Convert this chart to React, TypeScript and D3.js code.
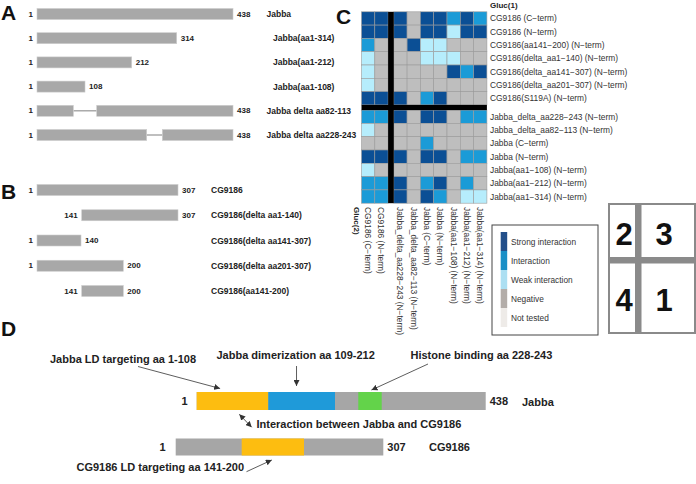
import React from "react";
import * as d3 from "d3";

const FONT = '"Liberation Sans", Arial, Helvetica, sans-serif';

// ---------- Panel A : Jabba constructs ----------
const jabbaNames = [
  "Jabba",
  "Jabba(aa1-314)",
  "Jabba(aa1-212)",
  "Jabba(aa1-108)",
  "Jabba delta aa82-113",
  "Jabba delta aa228-243",
];
const jabbaSegments: number[][][] = [
  [[1, 438]],
  [[1, 314]],
  [[1, 212]],
  [[1, 108]],
  [[1, 82], [113, 438]],
  [[1, 228], [243, 438]],
];

// ---------- Panel B : CG9186 constructs ----------
const cgNames = [
  "CG9186",
  "CG9186(delta aa1-140)",
  "CG9186(delta aa141-307)",
  "CG9186(delta aa201-307)",
  "CG9186(aa141-200)",
];
const cgSegments: number[][][] = [
  [[1, 307]],
  [[141, 307]],
  [[1, 140]],
  [[1, 200]],
  [[141, 200]],
];

// ---------- Panel C : interaction heatmap ----------
const heatRowTitle = "Gluc(1)";
const heatColTitle = "Gluc(2)";
const heatRows = [
  "CG9186 (C\u2212term)",
  "CG9186 (N\u2212term)",
  "CG9186(aa141\u2212200) (N\u2212term)",
  "CG9186(delta_aa1\u2212140) (N\u2212term)",
  "CG9186(delta_aa141\u2212307) (N\u2212term)",
  "CG9186(delta_aa201\u2212307) (N\u2212term)",
  "CG9186(S119A) (N\u2212term)",
  "Jabba_delta_aa228\u2212243 (N\u2212term)",
  "Jabba_delta_aa82\u2212113 (N\u2212term)",
  "Jabba (C\u2212term)",
  "Jabba (N\u2212term)",
  "Jabba(aa1\u2212108) (N\u2212term)",
  "Jabba(aa1\u2212212) (N\u2212term)",
  "Jabba(aa1\u2212314) (N\u2212term)",
];
const heatCols = [
  "CG9186 (C\u2212term)",
  "CG9186 (N\u2212term)",
  "Jabba_delta_aa228\u2212243 (N\u2212term)",
  "Jabba_delta_aa82\u2212113 (N\u2212term)",
  "Jabba (C\u2212term)",
  "Jabba (N\u2212term)",
  "Jabba(aa1\u2212108) (N\u2212term)",
  "Jabba(aa1\u2212212) (N\u2212term)",
  "Jabba(aa1\u2212314) (N\u2212term)",
];
// 3 strong, 2 interaction, 1 weak, 0 negative, -1 not tested
const heatValues = [
  [3, 3, 3, 0, 3, 3, 2, 3, 2],
  [3, 3, 3, 0, 3, 3, 1, 3, 3],
  [2, 0, 0, 3, 1, 1, 0, 0, 0],
  [1, 0, 0, 0, 1, 1, 1, 0, 0],
  [1, 0, 0, 0, 0, 0, 3, 2, 3],
  [1, 0, 0, 0, 0, 0, 0, 0, 0],
  [3, 3, 3, 0, 2, 3, 0, 0, 0],
  [2, 2, 3, 0, 3, 3, 0, 2, 2],
  [1, 0, 0, 0, 0, 0, 0, 0, 0],
  [0, 0, 0, 0, 2, 0, 0, 0, 0],
  [3, 3, 3, 0, 3, 3, 0, 2, 2],
  [1, 0, 0, 0, 0, 0, 0, 0, 0],
  [2, 2, 3, 0, 2, 3, 0, 2, 0],
  [2, 2, 3, 0, 3, 2, 0, 1, 1],
];
const legendLevels = [3, 2, 1, 0, -1];
const legendLabels = ["Strong interaction", "Interaction", "Weak interaction", "Negative", "Not tested"];
const quadrantNumbers = ["2", "3", "4", "1"];

// ---------- Panel D : domain map ----------
const jabbaLength = 438;
const cgLength = 307;
const jabbaDomains = [
  { start: 1, end: 108, kind: "ld" },
  { start: 108, end: 212, kind: "dimer" },
  { start: 227, end: 243, kind: "histone" },
];
const cgDomains = [{ start: 140, end: 200, kind: "ld" }];
const jabbaAnnotations = [
  { text: "Jabba LD targeting aa 1-108", target: 36 },
  { text: "Jabba dimerization aa 109-212", target: 152 },
  { text: "Histone binding aa 228-243", target: 236 },
];
const cgAnnotation = { text: "CG9186 LD targeting aa 141-200", target: 169 };
const interactionText = "Interaction between Jabba and CG9186";

export default function App() {
  // scales (schematic, piecewise-linear as in the figure)
  const xA = d3.scaleLinear().domain([1, 108, 113, 212, 228, 243, 314, 438]).range([37, 85, 96.7, 131.7, 146.7, 162.3, 176.7, 233]);
  const yA = d3.scalePoint<string>().domain(jabbaNames).range([14, 135]);
  const xB = d3.scaleLinear().domain([1, 140, 141, 200, 307]).range([37, 81, 81.7, 123.3, 178]);
  const yB = d3.scalePoint<string>().domain(cgNames).range([190, 291]);

  const barH = 11;
  const barFill = "#a8a8a8";

  const cw = 13.3, ch = 13.3, sepW = 5.7, sepH = 5.2;
  const hx0 = 361.5, hy0 = 11.8;
  const colBand = d3.scaleBand<number>().domain(d3.range(heatCols.length)).range([0, cw * heatCols.length]);
  const rowBand = d3.scaleBand<number>().domain(d3.range(heatRows.length)).range([0, ch * heatRows.length]);
  const cx = (i: number) => hx0 + (colBand(i) as number) + (i >= 2 ? sepW : 0);
  const ry = (j: number) => hy0 + (rowBand(j) as number) + (j >= 7 ? sepH : 0);
  const heatRight = cx(heatCols.length - 1) + cw;
  const heatBottom = ry(heatRows.length - 1) + ch;
  const heatColor = d3.scaleOrdinal<number, string>().domain(legendLevels).range(["#0b4f95", "#1b9bd7", "#b6edfc", "#bebebe", "#f2f0ee"]);
  const legendColor = d3.scaleOrdinal<number, string>().domain(legendLevels).range(["#234f8a", "#1a8fc6", "#acdff2", "#b3ada9", "#eeebe8"]);

  const xDJ = d3.scaleLinear().domain([1, 108, 212, 227, 243, jabbaLength]).range([196.7, 268.3, 335, 358.3, 381.7, 485.7]);
  const xDC = d3.scaleLinear().domain([1, 140, 200, cgLength]).range([175.7, 241.7, 304, 383.3]);
  const domColor: Record<string, string> = { ld: "#fdbd10", dimer: "#1f9ad9", histone: "#63d34a" };
  const jTop = 392, jH = 18, cTop = 438.5, cH = 17;

  const labelStyle = { fontFamily: FONT, fontWeight: 700 as const, fill: "#222" };

  const renderConstruct = (segs: number[][], y: number, x: d3.ScaleLinear<number, number>, name: string, nameX: number, key: string) => {
    const first = segs[0][0];
    const last = segs[segs.length - 1][1];
    return (
      <g key={key}>
        {segs.length > 1 &&
          segs.slice(1).map((s, k) => (
            <line key={k} x1={x(segs[k][1])} x2={x(s[0])} y1={y} y2={y} stroke="#9c9c9c" strokeWidth={1.3} />
          ))}
        {segs.map((s, k) => (
          <rect key={"r" + k} x={x(s[0])} y={y - barH / 2} width={x(s[1]) - x(s[0])} height={barH} fill={barFill} stroke="#cdcdcd" strokeWidth={0.6} />
        ))}
        <text x={x(first) - 4} y={y} textAnchor="end" dominantBaseline="central" fontSize={8} {...labelStyle}>{first}</text>
        <text x={x(last) + 4} y={y} dominantBaseline="central" fontSize={8} {...labelStyle}>{last}</text>
        <text x={nameX} y={y} dominantBaseline="central" fontSize={8.5} {...labelStyle}>{name}</text>
      </g>
    );
  };

  const arrowStroke = "#333";

  return (
    <svg width={696} height={484} style={{ position: "absolute", left: 0, top: 0, background: "#fff" }} fontFamily={FONT}>
      <defs>
        <marker id="ah" viewBox="0 0 10 10" refX="10" refY="5" markerWidth="6" markerHeight="6" markerUnits="userSpaceOnUse" orient="auto-start-reverse">
          <path d="M0,0 L10,5 L0,10 z" fill={arrowStroke} />
        </marker>
      </defs>
      <rect width={696} height={484} fill="#fff" />

      {/* Panel letters */}
      {[["A", 1, 20], ["B", 1, 199], ["C", 336, 24], ["D", 1, 336]].map(([t, x, y]) => (
        <text key={t as string} x={x as number} y={y as number} fontSize={21} fontWeight={700} fill="#111">{t}</text>
      ))}

      {/* Panel A */}
      {jabbaNames.map((n, i) =>
        renderConstruct(jabbaSegments[i], yA(n) as number, xA, n, jabbaSegments[i][jabbaSegments[i].length - 1][1] === 438 ? 266.5 : 273, "a" + i)
      )}

      {/* Panel B */}
      {cgNames.map((n, i) => renderConstruct(cgSegments[i], yB(n) as number, xB, n, 211, "b" + i))}

      {/* Panel C heatmap */}
      <g>
        {heatValues.map((row, j) =>
          row.map((v, i) => (
            <rect key={`c${j}-${i}`} x={cx(i)} y={ry(j)} width={cw} height={ch} fill={heatColor(v)} stroke="#9b9b9b" strokeWidth={0.6} />
          ))
        )}
        <rect x={cx(1) + cw} y={hy0} width={sepW} height={heatBottom - hy0} fill="#000" />
        <rect x={hx0} y={ry(6) + ch} width={heatRight - hx0} height={sepH} fill="#000" />
        <text x={490} y={5.5} dominantBaseline="central" fontSize={8} fontWeight={700} fill="#222">{heatRowTitle}</text>
        {heatRows.map((r, j) => (
          <text key={"rl" + j} x={490} y={ry(j) + ch / 2} dominantBaseline="central" fontSize={8.4} fill="#333">{r}</text>
        ))}
        <text transform={`translate(356,207) rotate(90)`} dominantBaseline="central" fontSize={8} fontWeight={700} fill="#222">{heatColTitle}</text>
        {heatCols.map((c, i) => (
          <text key={"cl" + i} transform={`translate(${cx(i) + cw / 2},207) rotate(90)`} dominantBaseline="central" fontSize={8.4} fill="#333">{c}</text>
        ))}
      </g>

      {/* Legend */}
      <g>
        <rect x={492} y={225} width={106} height={110} fill="#fff" stroke="#444" strokeWidth={1} />
        {legendLevels.map((lv, k) => (
          <g key={"lg" + k}>
            <rect x={500.7} y={232 + k * 19} width={6.5} height={19} fill={legendColor(lv)} />
            <text x={511} y={242 + k * 19} dominantBaseline="central" fontSize={8.3} fill="#333">{legendLabels[k]}</text>
          </g>
        ))}
      </g>

      {/* Quadrant key */}
      <g>
        <rect x={609} y={204} width={86} height={129} fill="#fff" stroke="#8a8a8a" strokeWidth={2} />
        <rect x={635} y={204} width={6.5} height={129} fill="#8a8a8a" />
        <rect x={609} y={257} width={86} height={6.5} fill="#8a8a8a" />
        {quadrantNumbers.map((q, k) => (
          <text key={"q" + k} x={k % 2 === 0 ? 624 : 664} y={k < 2 ? 234 : 300} textAnchor="middle" dominantBaseline="central" fontSize={31} fontWeight={700} fill="#111">{q}</text>
        ))}
      </g>

      {/* Panel D */}
      <g>
        <rect x={xDJ(1)} y={jTop} width={xDJ(jabbaLength) - xDJ(1)} height={jH} fill="#a6a6a6" />
        {jabbaDomains.map((d, k) => (
          <rect key={"jd" + k} x={xDJ(d.start)} y={jTop} width={xDJ(d.end) - xDJ(d.start)} height={jH} fill={domColor[d.kind]} />
        ))}
        <rect x={xDC(1)} y={cTop} width={xDC(cgLength) - xDC(1)} height={cH} fill="#a6a6a6" />
        {cgDomains.map((d, k) => (
          <rect key={"cd" + k} x={xDC(d.start)} y={cTop} width={xDC(d.end) - xDC(d.start)} height={cH} fill={domColor[d.kind]} />
        ))}
        <text x={xDJ(1) - 9} y={jTop + jH / 2} textAnchor="end" dominantBaseline="central" fontSize={11} {...labelStyle}>1</text>
        <text x={xDJ(jabbaLength) + 4} y={jTop + jH / 2} dominantBaseline="central" fontSize={11} {...labelStyle}>{jabbaLength}</text>
        <text x={522} y={jTop + jH / 2 + 1} dominantBaseline="central" fontSize={11} {...labelStyle}>Jabba</text>
        <text x={xDC(1) - 10} y={cTop + cH / 2} textAnchor="end" dominantBaseline="central" fontSize={11} {...labelStyle}>1</text>
        <text x={xDC(cgLength) + 4} y={cTop + cH / 2} dominantBaseline="central" fontSize={11} {...labelStyle}>{cgLength}</text>
        <text x={429} y={cTop + cH / 2} dominantBaseline="central" fontSize={11} {...labelStyle}>CG9186</text>

        {/* annotations */}
        <text x={50} y={359} dominantBaseline="central" fontSize={11} {...labelStyle}>{jabbaAnnotations[0].text}</text>
        <line x1={138} y1={366.5} x2={xDJ(jabbaAnnotations[0].target)} y2={jTop - 3.5} stroke={arrowStroke} strokeWidth={0.8} markerEnd="url(#ah)" />
        <text x={216.5} y={354.5} dominantBaseline="central" fontSize={11} {...labelStyle}>{jabbaAnnotations[1].text}</text>
        <line x1={xDJ(jabbaAnnotations[1].target)} y1={366} x2={xDJ(jabbaAnnotations[1].target)} y2={jTop - 6} stroke={arrowStroke} strokeWidth={0.8} markerEnd="url(#ah)" />
        <text x={410.5} y={355} dominantBaseline="central" fontSize={11} {...labelStyle}>{jabbaAnnotations[2].text}</text>
        <line x1={428} y1={364} x2={xDJ(jabbaAnnotations[2].target)} y2={jTop - 2} stroke={arrowStroke} strokeWidth={0.8} markerEnd="url(#ah)" />

        <line x1={239.3} y1={414.3} x2={251.7} y2={427.3} stroke={arrowStroke} strokeWidth={0.8} markerStart="url(#ah)" markerEnd="url(#ah)" />
        <text x={256.5} y={423.5} dominantBaseline="central" fontSize={11} {...labelStyle}>{interactionText}</text>

        <text x={76.5} y={466.7} dominantBaseline="central" fontSize={11} {...labelStyle}>{cgAnnotation.text}</text>
        <line x1={246.5} y1={471.7} x2={xDC(cgAnnotation.target)} y2={cTop + cH + 4.5} stroke={arrowStroke} strokeWidth={0.8} markerEnd="url(#ah)" />
      </g>
    </svg>
  );
}
